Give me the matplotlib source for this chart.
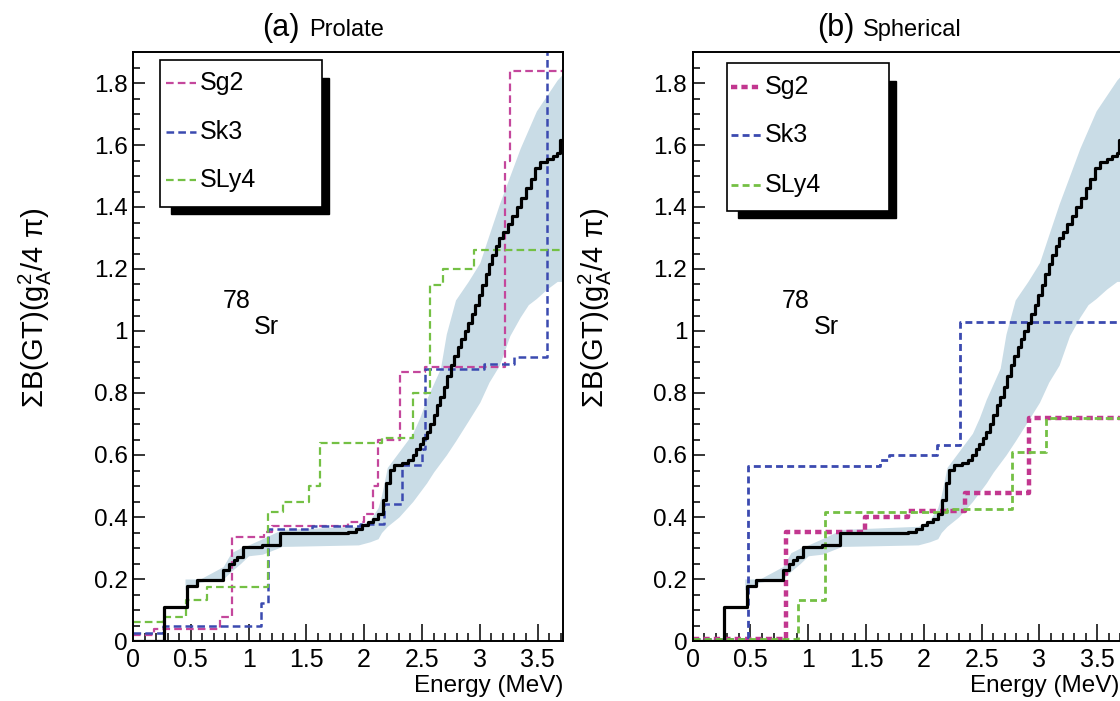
import matplotlib

matplotlib.use("Agg")
import matplotlib.pyplot as plt
from matplotlib.patches import Rectangle
from matplotlib.ticker import MultipleLocator, FormatStrFormatter

plt.rcParams["font.family"] = ["Liberation Sans", "DejaVu Sans"]
plt.rcParams["mathtext.fontset"] = "custom"
plt.rcParams["mathtext.rm"] = "Liberation Sans"
plt.rcParams["mathtext.it"] = "Liberation Sans:italic"
plt.rcParams["mathtext.bf"] = "Liberation Sans:bold"
plt.rcParams["lines.scale_dashes"] = False

E_MAX = 3.72
B_MAX = 1.9

# experiment: cumulative B(GT) steps (same in both panels)
exp_e = [0.0, 0.27, 0.47, 0.55, 0.78, 0.83, 0.87, 0.90, 0.95, 1.12, 1.27,
         1.86, 1.93, 1.98, 2.03, 2.08, 2.12, 2.16, 2.19, 2.22, 2.26, 2.33,
         2.38, 2.42, 2.45, 2.48, 2.51, 2.54, 2.57, 2.60, 2.63, 2.66, 2.69,
         2.72, 2.75, 2.78, 2.81, 2.84, 2.87, 2.90, 2.93, 2.96, 2.99, 3.02,
         3.05, 3.08, 3.11, 3.14, 3.17, 3.20, 3.24, 3.28, 3.32, 3.36, 3.40,
         3.44, 3.48, 3.52, 3.58, 3.63, 3.67, 3.69]
exp_b = [0.0, 0.11, 0.178, 0.196, 0.228, 0.25, 0.262, 0.27, 0.303, 0.31, 0.347,
         0.352, 0.362, 0.375, 0.385, 0.395, 0.41, 0.455, 0.51, 0.551, 0.568, 0.575,
         0.585, 0.60, 0.62, 0.637, 0.655, 0.675, 0.70, 0.73, 0.76, 0.788, 0.82,
         0.855, 0.89, 0.92, 0.95, 0.975, 1.00, 1.025, 1.055, 1.085, 1.115, 1.15,
         1.185, 1.215, 1.245, 1.275, 1.30, 1.32, 1.345, 1.37, 1.40, 1.43, 1.46,
         1.49, 1.525, 1.545, 1.555, 1.565, 1.575, 1.616]

# experimental uncertainty band
band_e = [0.45, 0.58, 0.78, 0.85, 0.93, 1.00, 1.12, 1.29, 1.95, 2.05, 2.12,
          2.15, 2.20, 2.30, 2.42, 2.48, 2.54, 2.60, 2.66, 2.71, 2.79, 2.90,
          3.00, 3.08, 3.17, 3.26, 3.35, 3.42, 3.49, 3.58, 3.67, 3.72]
band_lo = [0.165, 0.19, 0.20, 0.225, 0.25, 0.275, 0.28, 0.305, 0.31, 0.32, 0.33,
           0.35, 0.37, 0.40, 0.45, 0.48, 0.51, 0.545, 0.575, 0.60, 0.645, 0.71,
           0.77, 0.835, 0.89, 0.985, 1.045, 1.085, 1.105, 1.135, 1.16, 1.16]
band_hi = [0.20, 0.20, 0.24, 0.285, 0.30, 0.31, 0.33, 0.36, 0.37, 0.39, 0.43,
           0.47, 0.56, 0.61, 0.67, 0.72, 0.78, 0.83, 0.88, 0.99, 1.10, 1.16,
           1.22, 1.31, 1.41, 1.50, 1.59, 1.65, 1.71, 1.76, 1.81, 1.83]

# (a) prolate
pro_sg2_e = [0.0, 0.18, 0.75, 0.854, 1.13, 1.20, 1.86, 2.00, 2.08, 2.12, 2.31, 2.53, 3.22, 3.26]
pro_sg2_b = [0.02, 0.04, 0.077, 0.334, 0.352, 0.37, 0.384, 0.41, 0.50, 0.65, 0.868, 0.885, 1.55, 1.84]
pro_sk3_e = [0.0, 0.26, 1.11, 1.17, 1.55, 1.96, 2.17, 2.33, 2.50, 2.53, 3.04, 3.30, 3.58]
pro_sk3_b = [0.025, 0.048, 0.121, 0.36, 0.37, 0.379, 0.443, 0.567, 0.62, 0.879, 0.895, 0.915, 2.5]
pro_sly4_e = [0.0, 0.26, 0.46, 0.64, 1.17, 1.30, 1.52, 1.62, 2.15, 2.42, 2.57, 2.68, 2.95]
pro_sly4_b = [0.061, 0.077, 0.131, 0.174, 0.416, 0.45, 0.50, 0.64, 0.655, 0.80, 1.15, 1.20, 1.26]

# (b) spherical
sph_sg2_e = [0.0, 0.81, 1.49, 1.86, 2.36, 2.91]
sph_sg2_b = [0.005, 0.352, 0.40, 0.42, 0.476, 0.718]
sph_sk3_e = [0.0, 0.48, 1.62, 1.70, 2.11, 2.31]
sph_sk3_b = [0.005, 0.565, 0.585, 0.60, 0.632, 1.03]
sph_sly4_e = [0.0, 0.91, 1.145, 2.20, 2.76, 3.06]
sph_sly4_b = [0.005, 0.131, 0.415, 0.427, 0.61, 0.718]

labels = ["Sg2", "Sk3", "SLy4"]

BAND_COLOR = "#c9dce6"
SG2_COLOR = "#c4479c"
SK3_COLOR = "#3b4ab0"
SLY4_COLOR = "#74c044"

FIG_W, FIG_H = 1120, 701


def px_axes(x0, y_top, y_bot, width=430):
    return [x0 / FIG_W, 1 - y_bot / FIG_H, width / FIG_W, (y_bot - y_top) / FIG_H]


def step_to_end(e, b):
    return list(e) + [E_MAX], list(b) + [b[-1]]


def draw_panel(ax, tag, name, series, styles, legend_box, xlabel_x=1.0):
    ax.fill_between(band_e, band_lo, band_hi, color=BAND_COLOR, lw=0, zorder=1)

    for (e, b), st in zip(series, styles):
        x, y = step_to_end(e, b)
        ax.step(x, y, where="post", color=st["color"], lw=st["lw"],
                dashes=st["dashes"], zorder=2)

    x, y = step_to_end(exp_e, exp_b)
    ax.step(x, y, where="post", color="black", lw=2.3, zorder=3)

    ax.set_xlim(0, E_MAX)
    ax.set_ylim(0, B_MAX)
    ax.xaxis.set_major_locator(MultipleLocator(0.5))
    ax.xaxis.set_minor_locator(MultipleLocator(0.1))
    ax.yaxis.set_major_locator(MultipleLocator(0.2))
    ax.yaxis.set_minor_locator(MultipleLocator(0.05))
    ax.xaxis.set_major_formatter(FormatStrFormatter("%g"))
    ax.yaxis.set_major_formatter(FormatStrFormatter("%g"))
    ax.tick_params(direction="in", which="both", top=False, right=False, width=1.1)
    ax.tick_params(axis="x", which="major", length=12, pad=5, labelsize=18)
    ax.tick_params(axis="x", which="minor", length=6)
    ax.tick_params(axis="y", which="major", length=8.5, pad=4, labelsize=17.5)
    ax.tick_params(axis="y", which="minor", length=5)
    for sp in ax.spines.values():
        sp.set_linewidth(1.4)

    ax.text(xlabel_x, -0.087, "Energy (MeV)", transform=ax.transAxes,
            ha="right", va="baseline", fontsize=17.5, clip_on=False)
    ax.text(tag[1], 1.027, tag[0], transform=ax.transAxes,
            ha="left", va="baseline", fontsize=22, clip_on=False)
    ax.text(name[1], 1.027, name[0], transform=ax.transAxes,
            ha="left", va="baseline", fontsize=17, clip_on=False)

    ax.text(0.208, 0.565, "78", transform=ax.transAxes, fontsize=18, va="baseline")
    ax.text(0.282, 0.521, "Sr", transform=ax.transAxes, fontsize=18, va="baseline")

    # legend box with drop shadow
    bx0, bx1, by0, by1, rows, sx0, sx1, tx = legend_box
    ax.add_patch(Rectangle((bx0 + 11 / 430, by0 - 7 / 589), bx1 - bx0 - 4 / 430,
                           by1 - by0 - 11 / 589, transform=ax.transAxes,
                           facecolor="black", edgecolor="black", zorder=4, clip_on=False))
    ax.add_patch(Rectangle((bx0, by0), bx1 - bx0, by1 - by0,
                           transform=ax.transAxes, facecolor="white",
                           edgecolor="black", lw=1.2, zorder=5, clip_on=False))
    for lab, st, ry in zip(labels, styles, rows):
        ax.plot([sx0, sx1], [ry, ry], transform=ax.transAxes, color=st["color"],
                lw=st["lw"], dashes=st["dashes"], zorder=6)
        ax.text(tx, ry, lab, transform=ax.transAxes, fontsize=18,
                va="center", ha="left", zorder=6)


fig = plt.figure(figsize=(FIG_W / 100, FIG_H / 100), dpi=100)
ax1 = fig.add_axes(px_axes(133, 52, 641))
ax2 = fig.add_axes(px_axes(692.7, 52, 641))

thin = [
    {"color": SG2_COLOR, "lw": 1.6, "dashes": (5.5, 3.0)},
    {"color": SK3_COLOR, "lw": 1.8, "dashes": (5.5, 3.0)},
    {"color": SLY4_COLOR, "lw": 1.6, "dashes": (5.5, 3.0)},
]
thick = [
    {"color": "#c2378f", "lw": 3.2, "dashes": (4.5, 3.0)},
    {"color": SK3_COLOR, "lw": 2.0, "dashes": (5.0, 3.0)},
    {"color": SLY4_COLOR, "lw": 2.0, "dashes": (5.0, 3.0)},
]

draw_panel(ax1, ("(a)", 0.30), ("Prolate", 0.41),
           [(pro_sg2_e, pro_sg2_b), (pro_sk3_e, pro_sk3_b), (pro_sly4_e, pro_sly4_b)],
           thin,
           (0.063, 0.44, 0.737, 0.986, [0.947, 0.864, 0.783], 0.077, 0.147, 0.156))
draw_panel(ax2, ("(b)", 0.29), ("Spherical", 0.395),
           [(sph_sg2_e, sph_sg2_b), (sph_sk3_e, sph_sk3_b), (sph_sly4_e, sph_sly4_b)],
           thick,
           (0.079, 0.456, 0.730, 0.981, [0.94, 0.859, 0.774], 0.088, 0.16, 0.167),
           xlabel_x=(1119 - 692.7) / 430)

ylabel = "ΣB(GT)(g$^{2}_{\\mathrm{A}}$/4 π)"
for xpx in (35, 595):
    fig.text(xpx / FIG_W, 1 - 308 / FIG_H, ylabel, rotation=90,
             ha="center", va="center", fontsize=21)

fig.savefig("out.png", dpi=100)
